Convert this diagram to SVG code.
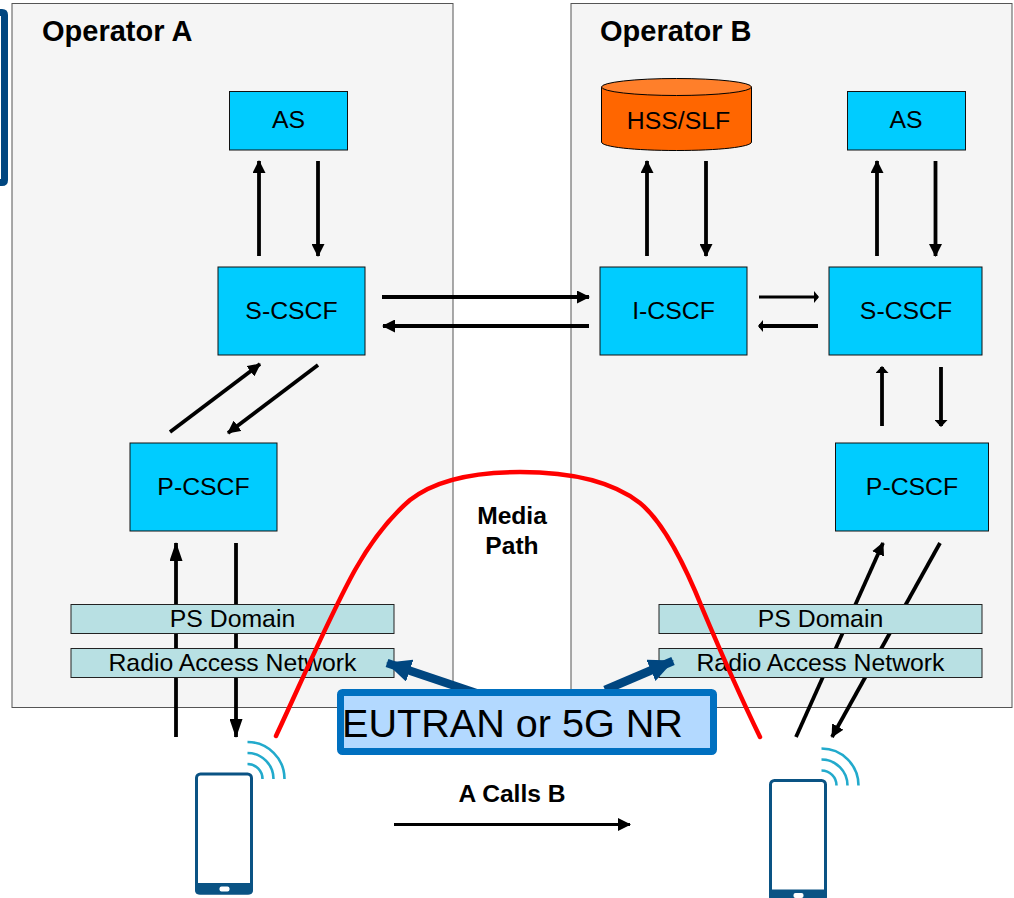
<svg xmlns="http://www.w3.org/2000/svg" width="1014" height="898" viewBox="0 0 1014 898">
<style>
text{font-family:"Liberation Sans",Arial,sans-serif;fill:#000;text-anchor:middle}
.op{fill:#f5f5f5;stroke:#555;stroke-width:1}
.box{fill:#00ccff;stroke:#111;stroke-width:1}
.bar{fill:#b8e0e3;stroke:#222;stroke-width:1}
.t{font-size:24.800px}
.h{font-size:29px;font-weight:bold;text-anchor:start}
.m{font-size:24.600px;font-weight:bold}
.c{fill:none;stroke:#000;stroke-width:3.800}
.c2{fill:none;stroke:#000;stroke-width:3}
.wave{fill:none;stroke:#22aacc;stroke-width:2.600}
.ph{fill:#fff;stroke:#0a5384;stroke-width:3}
</style>
<defs>
<marker id="a" markerUnits="userSpaceOnUse" markerWidth="13" markerHeight="13" refX="12" refY="6.500" orient="auto" viewBox="0 0 13 13"><path d="M0 0L13 6.500L0 13Z" fill="#000"/></marker>
<marker id="l" markerUnits="userSpaceOnUse" markerWidth="19" markerHeight="13" refX="18" refY="6.500" orient="auto" viewBox="0 0 19 13"><path d="M0 0L19 6.500L0 13Z" fill="#000"/></marker>
<marker id="k" markerUnits="userSpaceOnUse" markerWidth="7" markerHeight="13" refX="6" refY="6.500" orient="auto" viewBox="0 0 7 13"><path d="M0 0L7 6.500L0 13Z" fill="#000"/></marker>
<marker id="s" markerUnits="userSpaceOnUse" markerWidth="5" markerHeight="12" refX="4" refY="6" orient="auto" viewBox="0 0 5 12"><path d="M0 0L5 6L0 12Z" fill="#000"/></marker>
<marker id="n" markerUnits="userSpaceOnUse" markerWidth="25" markerHeight="23" refX="24" refY="11.500" orient="auto" viewBox="0 0 25 23"><path d="M0 0L25 11.500L0 23Z" fill="#004680"/></marker>
<g id="phone">
<rect class="ph" x="0" y="0" width="55" height="119" rx="4"/>
<path d="M-1.500 109H56.500V116Q56.500 120.500 52 120.500H3Q-1.500 120.500-1.500 116Z" fill="#0a5384"/>
<rect x="23" y="112.500" width="10" height="5" rx="2" fill="#fff"/>
<path class="wave" d="M51-32A37 37 0 0 1 88 5M51-21A26 26 0 0 1 77 5M51-10A15 15 0 0 1 66 5"/>
</g>
</defs>
<rect width="1014" height="898" fill="#fff"/>
<path id="side-fragment" d="M0 12.500H2Q4.500 12.500 4.500 15V180Q4.500 182.500 2 182.500H0" fill="none" stroke="#004680" stroke-width="7"/>
<g id="operator-a"><rect class="op" x="12" y="3.500" width="441" height="704"/><text class="h" x="42" y="41">Operator A</text></g>
<g id="operator-b"><rect class="op" x="571" y="3.500" width="441" height="704"/><text class="h" x="600" y="41">Operator B</text></g>
<g id="connectors">
<path class="c" marker-end="url(#a)" d="M259 256V161"/>
<path class="c" marker-end="url(#a)" d="M318 161V256"/>
<path class="c" marker-end="url(#a)" d="M647 256V161"/>
<path class="c" marker-end="url(#a)" d="M706 161V256"/>
<path class="c" marker-end="url(#a)" d="M877 256V161"/>
<path class="c" marker-end="url(#a)" d="M935.500 161V256"/>
<path class="c" marker-end="url(#a)" d="M382 297H589"/>
<path class="c" marker-end="url(#a)" d="M589 326H383"/>
<path class="c2" marker-end="url(#s)" d="M759 297H818"/>
<path class="c" marker-end="url(#s)" d="M818 326H759"/>
<path class="c" marker-end="url(#a)" d="M170 432L260 364"/>
<path class="c" marker-end="url(#a)" d="M318 365L228 433"/>
<path class="c" marker-end="url(#k)" d="M882 426V367"/>
<path class="c" marker-end="url(#k)" d="M941 367V426"/>
<path class="c" marker-end="url(#l)" d="M176 737V543"/>
<path class="c" marker-end="url(#l)" d="M236 543V737"/>
<path class="c" marker-end="url(#a)" d="M796 737L883 543"/>
<path class="c" marker-end="url(#a)" d="M940 543L832 737"/>
<path class="c2" marker-end="url(#a)" d="M394 824.500H630"/>
</g>
<g id="as-a"><rect class="box" x="229.500" y="91.500" width="118" height="58.500"/><text class="t" x="288.500" y="128">AS</text></g>
<g id="hss-slf">
<path d="M601.500 87V142C601.500 147 635 150.500 676.500 150.500S751.500 147 751.500 142V87Z" fill="#ff6600" stroke="#000" stroke-width="1"/>
<ellipse cx="676.500" cy="87" rx="75" ry="8.500" fill="#ff7f2a" stroke="#000" stroke-width="1"/>
<text class="t" x="678.500" y="129">HSS/SLF</text></g>
<g id="as-b"><rect class="box" x="847.500" y="91.500" width="118" height="58.500"/><text class="t" x="906" y="128">AS</text></g>
<g id="s-cscf-a"><rect class="box" x="218" y="267" width="147" height="88"/><text class="t" x="291.500" y="319">S-CSCF</text></g>
<g id="i-cscf"><rect class="box" x="600" y="267" width="147" height="88"/><text class="t" x="673.500" y="319">I-CSCF</text></g>
<g id="s-cscf-b"><rect class="box" x="829" y="267" width="153" height="88"/><text class="t" x="906" y="319">S-CSCF</text></g>
<g id="p-cscf-a"><rect class="box" x="130" y="443" width="147" height="88"/><text class="t" x="203.500" y="495">P-CSCF</text></g>
<g id="p-cscf-b"><rect class="box" x="835.500" y="443" width="153" height="88"/><text class="t" x="912" y="495">P-CSCF</text></g>
<g id="ps-domain-a"><rect class="bar" x="71" y="604.500" width="323" height="29"/><text class="t" x="232.500" y="627">PS Domain</text></g>
<g id="ran-a"><rect class="bar" x="71" y="648.500" width="323" height="29"/><text class="t" x="232.500" y="671">Radio Access Network</text></g>
<g id="ps-domain-b"><rect class="bar" x="659" y="604.500" width="323" height="29"/><text class="t" x="820.500" y="627">PS Domain</text></g>
<g id="ran-b"><rect class="bar" x="659" y="648.500" width="323" height="29"/><text class="t" x="820.500" y="671">Radio Access Network</text></g>
<g id="connectors-over">
<path id="media-path" fill="none" stroke="#f00" stroke-width="4.500" stroke-linecap="round" d="M276 736C300 685 330 615 355 570C368 547 388 519 410 500C434 481 470 472 520 472C570 472 612 481 640 503C662 521 683 560 703 610C722 655 742 700 760 737"/>
<path fill="none" stroke="#004680" stroke-width="8.500" marker-end="url(#n)" d="M476 693L387 663"/>
<path fill="none" stroke="#004680" stroke-width="8.500" marker-end="url(#n)" d="M605 690L673 661"/>
</g>
<g id="eutran"><rect x="340.500" y="692.500" width="373" height="59" rx="2" fill="#b3d9ff" stroke="#0070c0" stroke-width="7"/><text x="342" y="737" font-size="39.600" style="text-anchor:start">EUTRAN or 5G NR</text></g>
<g id="media-label"><text class="m" x="512" y="524">Media</text><text class="m" x="512" y="554">Path</text></g>
<g id="call-label"><text class="m" x="512" y="802">A Calls B</text></g>
<use id="phone-a" href="#phone" x="196.500" y="774"/>
<use id="phone-b" href="#phone" x="770.500" y="780.500"/>
</svg>
